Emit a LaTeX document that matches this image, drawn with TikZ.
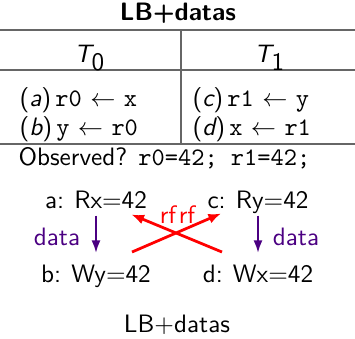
\documentclass[tikz,border=0pt]{standalone}
\usetikzlibrary{arrows.meta,calc}
\definecolor{datacol}{RGB}{75,0,130}
\renewcommand{\familydefault}{\sfdefault}
\begin{document}
\begin{tikzpicture}[x=0.397pt,y=-0.397pt,
  rulel/.style={draw=black!60,line width=0.6pt},
  txt/.style={inner sep=0pt,anchor=base west},
  ev/.style={inner sep=0pt,anchor=base,text height=6.94pt,text depth=0pt},
  dataarr/.style={draw=datacol,line width=0.8pt,-{Latex[length=5pt,width=3.6pt]},shorten <=2.8pt,shorten >=4.4pt},
  rfarr/.style={draw=red,line width=1.1pt,-{Latex[length=5pt,width=4pt]}},
  datalbl/.style={inner sep=0pt,anchor=base,text=datacol},
  rflbl/.style={inner sep=0pt,anchor=base,text=red}]
\useasboundingbox (0,0) rectangle (355,338);
% title
\node[inner sep=0pt,anchor=base] (title) at (178,20) {\bfseries LB+datas};
% table rules
\draw[rulel] (0,30) coordinate (r1l) -- (355,30) coordinate (r1r);
\draw[rulel] (0,70) coordinate (r2l) -- (355,70) coordinate (r2r);
\draw[rulel] (0,144) coordinate (r3l) -- (355,144) coordinate (r3r);
\draw[rulel] (181,30) coordinate (vt) -- (181,144) coordinate (vb);
% headers
\node[inner sep=0pt,anchor=base] (t0) at (90,62) {$\textsf{\itshape T}_{\textsf{0}}$};
\node[inner sep=0pt,anchor=base] (t1) at (270,62) {$\textsf{\itshape T}_{\textsf{1}}$};
% code
\node[txt] (ca) at (19,106) {({\itshape a})\,\texttt{r0} $\leftarrow$ \texttt{x}};
\node[txt] (cb) at (19,135) {({\itshape b})\,\texttt{y} $\leftarrow$ \texttt{r0}};
\node[txt] (cc) at (192,106) {({\itshape c})\,\texttt{r1} $\leftarrow$ \texttt{y}};
\node[txt] (cd) at (192,135) {({\itshape d})\,\texttt{x} $\leftarrow$ \texttt{r1}};
% observed
\node[txt] (obs) at (18,165) {Observed? \texttt{r0=42; r1=42;}};
% events
\node[ev] (a) at (96,208) {a:\hspace{4pt}Rx\mbox{$=$}42};
\node[ev] (c) at (258,208) {c:\hspace{4pt}Ry\mbox{$=$}42};
\node[ev] (b) at (96,282) {b:\hspace{4pt}Wy\mbox{$=$}42};
\node[ev] (d) at (258,282) {d:\hspace{4pt}Wx\mbox{$=$}42};
% data edges
\draw[dataarr] (a.south) -- (b.north);
\draw[dataarr] (c.south) -- (d.north);
\node[datalbl] (la) at (57,245) {data};
\node[datalbl] (lc) at (296,245) {data};
% rf edges
\draw[rfarr] ($(d.north)+(-36,-12)$) -- ($(a.south east)+(-16,6)$);
\draw[rfarr] ($(b.north)+(36,-12)$) -- ($(c.south west)+(14,5)$);
\node[rflbl] (rf1) at (168,223) {rf};
\node[rflbl] (rf2) at (187,223) {rf};
% caption
\node[inner sep=0pt,anchor=base] (cap) at (177,332) {LB+datas};
\end{tikzpicture}
\end{document}
